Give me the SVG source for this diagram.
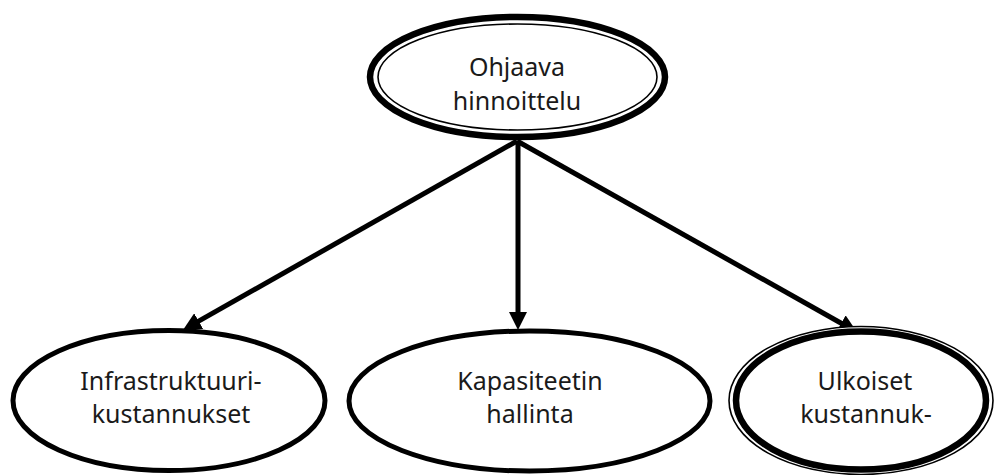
<svg xmlns="http://www.w3.org/2000/svg" width="994" height="475" viewBox="0 0 994 475">
  <style>
    .thick { fill: none; stroke: #000; stroke-width: 5; }
    .thicker { fill: none; stroke: #000; stroke-width: 6.5; }
    .thin { fill: none; stroke: #000; stroke-width: 1.6; }
    .bg { fill: #fff; }
    .lbl { font-family: "Noto Sans", "DejaVu Sans", sans-serif; font-size: 25px; fill: #1a1a1a; text-anchor: middle; }
    .edge { stroke: #000; stroke-width: 5; fill: none; marker-end: url(#arrow); }
  </style>
  <defs>
    <marker id="arrow" markerUnits="userSpaceOnUse" viewBox="0 0 18 18" markerWidth="18" markerHeight="18" refX="2" refY="9" orient="auto">
      <path d="M0,0 L18,9 L0,18 z" fill="#000"/>
    </marker>
  </defs>
  <rect width="994" height="475" fill="#fff"/>

  <g id="edges">
    <line class="edge" x1="517" y1="141" x2="196.9" y2="322.1"/>
    <line class="edge" x1="518" y1="141" x2="518" y2="314"/>
    <line class="edge" x1="517" y1="141" x2="843" y2="324.2"/>
  </g>

  <g id="node-ohjaava">
    <ellipse class="bg" cx="517.5" cy="77" rx="147.5" ry="60"/>
    <ellipse class="thicker" cx="517.5" cy="77" rx="147.5" ry="60"/>
    <ellipse class="thin" cx="517.5" cy="77" rx="139.5" ry="53"/>
    <text class="lbl" x="517" y="76">Ohjaava</text>
    <text class="lbl" x="517" y="110">hinnoittelu</text>
  </g>

  <g id="node-infra">
    <ellipse class="bg thick" cx="169" cy="400.5" rx="156" ry="70"/>
    <text class="lbl" x="171" y="390">Infrastruktuuri-</text>
    <text class="lbl" x="171" y="423">kustannukset</text>
  </g>

  <g id="node-kapasiteetti">
    <ellipse class="bg thick" cx="529.5" cy="401" rx="180.5" ry="70"/>
    <text class="lbl" x="530" y="390">Kapasiteetin</text>
    <text class="lbl" x="530" y="423">hallinta</text>
  </g>

  <g id="node-ulkoiset">
    <ellipse class="bg" cx="861" cy="400.5" rx="132" ry="74"/>
    <ellipse class="thin" cx="861" cy="400.5" rx="132" ry="74"/>
    <ellipse class="thicker" cx="861" cy="400.5" rx="125" ry="69"/>
    <text class="lbl" x="865" y="390">Ulkoiset</text>
    <text class="lbl" x="866" y="423">kustannuk-</text>
  </g>
</svg>
